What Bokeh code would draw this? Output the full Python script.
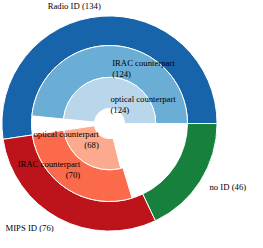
import numpy as np
from bokeh.plotting import figure, ColumnDataSource
from bokeh.models import Range1d
from bokeh.embed import file_html
from bokeh.resources import INLINE
from bokeh.core.properties import value

# ---- data ----
outer_labels = ["Radio ID", "MIPS ID", "no ID"]
outer_counts = [134, 76, 46]
outer_colors = ["#1764ab", "#bc141a", "#16803c"]

middle_labels = ["IRAC counterpart", "IRAC counterpart"]
middle_counts = [124, 70]          # children of Radio ID, MIPS ID
middle_colors = ["#6aaed6", "#fb6a4a"]

inner_labels = ["optical counterpart", "optical counterpart"]
inner_counts = [124, 68]           # children of Radio ID, MIPS ID
inner_colors = ["#bad6eb", "#fcaa8e"]

# ---- geometry ----
total = sum(outer_counts)
unit = 2 * np.pi / total
outer_start = np.concatenate([[0], np.cumsum(outer_counts)[:-1]]) * unit
outer_end = np.cumsum(outer_counts) * unit

R_OUT, R_MID, R_IN, R_HOLE = 1.0, 0.725, 0.43, 0.14
FONT = "Liberation Serif"
FSIZE = "8.7px"

W, H = 247, 232
p = figure(width=W, height=H, output_backend="svg", toolbar_location=None,
           x_range=Range1d(-1.013, 1.283), y_range=Range1d(-1.013, 1.1435),
           min_border=0, background_fill_color="white", border_fill_color="white")
p.axis.visible = False
p.grid.visible = False
p.outline_line_color = None

def ring(counts, colors, r0, r1, nparents):
    starts = outer_start[:nparents]
    ends = starts + np.array(counts) * unit
    src = ColumnDataSource(dict(s=starts, e=ends, c=colors))
    p.annular_wedge(x=0, y=0, inner_radius=r0, outer_radius=r1,
                    start_angle="s", end_angle="e", fill_color="c",
                    line_color="white", line_width=1, source=src)
    return starts, ends

ring(outer_counts, outer_colors, R_MID, R_OUT, 3)
ms, me = ring(middle_counts, middle_colors, R_IN, R_MID, 2)
ins, ine = ring(inner_counts, inner_colors, R_HOLE, R_IN, 2)

def labels(texts, starts, ends, dist):
    mids = (np.array(starts) + np.array(ends)) / 2
    for t, a in zip(texts, mids):
        x, y = dist * np.cos(a), dist * np.sin(a)
        p.text(x=[x], y=[y], text=[t], text_font=value(FONT),
               text_font_size=FSIZE, text_color="black",
               text_align="left" if np.cos(a) >= 0 else "right",
               text_baseline="middle", text_line_height=1.1)

labels([f"{l} ({c})" for l, c in zip(outer_labels, outer_counts)],
       outer_start, outer_end, 1.1)
labels([f"{l}\n({c})" for l, c in zip(middle_labels, middle_counts)],
       ms, me, 0.51)
labels([f"{l}\n({c})" for l, c in zip(inner_labels, inner_counts)],
       ins, ine, 0.178)

open("out.html", "w").write(file_html(p, INLINE))
